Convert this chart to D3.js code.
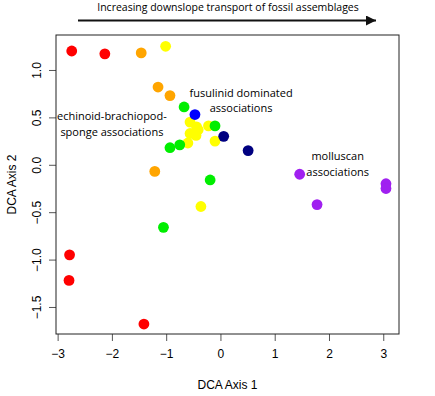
<!DOCTYPE html>
<html>
<head>
<meta charset="utf-8">
<script src="https://cdn.jsdelivr.net/npm/d3@7"></script>
<style>
  body { margin: 0; background: #fff; }
  svg { display: block; font-family: "Liberation Sans", Arial, sans-serif; }
</style>
</head>
<body>
<svg id="chart" width="435" height="396"></svg>
<script>
// DCA site scores, grouped by association colour
var redPts    = [[-2.74, 1.20], [-2.13, 1.17], [-2.78, -0.95], [-2.79, -1.22], [-1.41, -1.68]];
var orangePts = [[-1.46, 1.18], [-1.15, 0.82], [-0.93, 0.73], [-1.21, -0.07]];
var yellowPts = [[-1.01, 1.25], [-0.56, 0.45], [-0.44, 0.40], [-0.41, 0.37], [-0.22, 0.41],
                 [-0.56, 0.33], [-0.45, 0.31], [-0.60, 0.23], [-0.10, 0.25], [-0.36, -0.44]];
var greenPts  = [[-0.67, 0.61], [-0.10, 0.41], [-0.93, 0.18], [-0.75, 0.21], [-0.19, -0.16], [-1.05, -0.66]];
var bluePts   = [[-0.47, 0.53]];
var navyPts   = [[0.06, 0.30], [0.51, 0.15]];
var purplePts = [[1.46, -0.10], [3.05, -0.20], [3.05, -0.25], [1.78, -0.42]];

var groups = [
  {pts: redPts, col: "#ff0000"},
  {pts: orangePts, col: "#ffa500"},
  {pts: yellowPts, col: "#ffff00"},
  {pts: greenPts, col: "#00ee00"},
  {pts: bluePts, col: "#0000ff"},
  {pts: navyPts, col: "#000080"},
  {pts: purplePts, col: "#a020f0"}
];

var xTicks = [-3, -2, -1, 0, 1, 2, 3];
var yTicks = [-1.5, -1.0, -0.5, 0.0, 0.5, 1.0];

var labels = [
  {x: -2.0, y: 0.47, lines: ["echinoid-brachiopod-", "sponge associations"]},
  {x: 0.38, y: 0.72, lines: ["fusulinid dominated", "associations"]},
  {x: 2.16, y: 0.05, lines: ["molluscan", "associations"]}
];

var svg = d3.select("#chart");
var box = {left: 56, right: 399, top: 35, bottom: 334};

var x = d3.scaleLinear().domain([-3.03, 3.29]).range([box.left, box.right]);
var y = d3.scaleLinear().domain([-1.785, 1.369]).range([box.bottom, box.top]);

// x axis
var xAxis = svg.append("g")
  .attr("transform", "translate(0," + box.bottom + ")")
  .call(d3.axisBottom(x).tickValues(xTicks).tickSize(7).tickPadding(8)
    .tickFormat(function(d) { return d3.format("")(d); }));
xAxis.select(".domain").remove();
xAxis.selectAll("line").attr("stroke", "#555");
xAxis.selectAll("text").attr("font-size", "12px").attr("fill", "#000")
  .attr("font-family", "Liberation Sans, Arial, sans-serif");

// y axis, R-style vertical labels
var yAxis = svg.append("g")
  .attr("transform", "translate(" + box.left + ",0)")
  .call(d3.axisLeft(y).tickValues(yTicks).tickSize(7).tickFormat(d3.format(".1f")));
yAxis.select(".domain").remove();
yAxis.selectAll("line").attr("stroke", "#555");
yAxis.selectAll("text")
  .attr("font-size", "12px").attr("fill", "#000")
  .attr("font-family", "Liberation Sans, Arial, sans-serif")
  .attr("x", null).attr("dy", null)
  .attr("text-anchor", "middle")
  .attr("transform", "translate(-19,0) rotate(-90)")
  .attr("dy", "0.35em");

// frame
svg.append("rect")
  .attr("x", box.left).attr("y", box.top)
  .attr("width", box.right - box.left).attr("height", box.bottom - box.top)
  .attr("fill", "none").attr("stroke", "#222").attr("stroke-width", 1);

// axis titles
svg.append("text")
  .attr("x", (box.left + box.right) / 2).attr("y", 389)
  .attr("text-anchor", "middle").attr("font-size", "12px")
  .text("DCA Axis 1");
svg.append("text")
  .attr("transform", "translate(16," + (box.top + box.bottom) / 2 + ") rotate(-90)")
  .attr("text-anchor", "middle").attr("font-size", "12px")
  .text("DCA Axis 2");

// points
groups.forEach(function(g) {
  svg.append("g").selectAll("circle")
    .data(g.pts)
    .enter().append("circle")
    .attr("cx", function(d) { return x(d[0]); })
    .attr("cy", function(d) { return y(d[1]); })
    .attr("r", 5.4)
    .attr("fill", g.col);
});

// annotations
labels.forEach(function(l) {
  var t = svg.append("text")
    .attr("text-anchor", "middle")
    .attr("font-size", "11px")
    .attr("font-family", "Open Sans, Liberation Sans, sans-serif")
    .attr("x", x(l.x)).attr("y", y(l.y));
  l.lines.forEach(function(s, i) {
    t.append("tspan").attr("x", x(l.x)).attr("dy", i === 0 ? 0 : 15.5).text(s);
  });
});

// transport arrow
svg.append("defs").append("marker")
  .attr("id", "head").attr("viewBox", "0 0 10 10")
  .attr("refX", 10).attr("refY", 5)
  .attr("markerWidth", 6).attr("markerHeight", 5)
  .attr("markerUnits", "strokeWidth")
  .attr("orient", "auto")
  .append("path").attr("d", "M0,0L10,5L0,10z").attr("fill", "#111");
svg.append("line")
  .attr("x1", 78).attr("x2", 376).attr("y1", 20.5).attr("y2", 20.5)
  .attr("stroke", "#111").attr("stroke-width", 2)
  .attr("marker-end", "url(#head)");
svg.append("text")
  .attr("x", 228).attr("y", 11)
  .attr("text-anchor", "middle").attr("font-size", "10.5px")
  .attr("font-family", "Open Sans, Liberation Sans, sans-serif")
  .text("Increasing downslope transport of fossil assemblages");
</script>
</body>
</html>
